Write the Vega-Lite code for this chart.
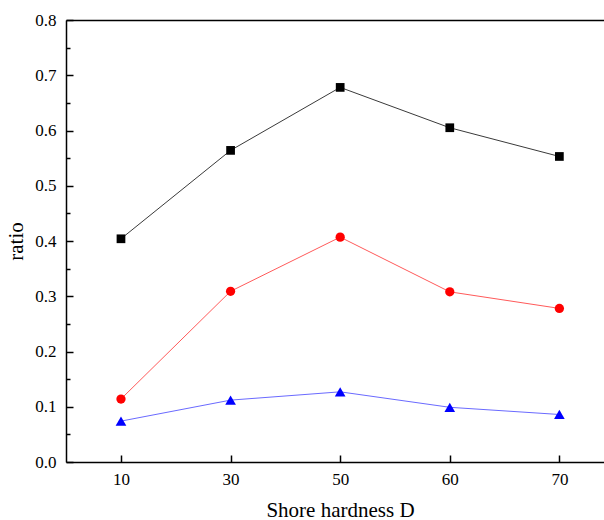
{
  "$schema": "https://vega.github.io/schema/vega-lite/v6.json",
  "width": 538,
  "height": 442,
  "autosize": "none",
  "padding": {"left": 66, "top": 20, "right": 0, "bottom": 58},
  "config": {
    "view": {"stroke": null},
    "font": "Liberation Serif",
    "axis": {"grid": false, "labelColor": "#000", "titleColor": "#000", "tickColor": "#000", "domainColor": "#000", "labelFont": "Liberation Serif", "titleFont": "Liberation Serif", "titleFontWeight": "normal"},
    "legend": {"labelFont": "Liberation Serif"}
  },
  "data": {
    "values": [
      {"hardness": 10, "series": "Average lift-to-drag ratio", "value": 0.404},
      {"hardness": 30, "series": "Average lift-to-drag ratio", "value": 0.564},
      {"hardness": 50, "series": "Average lift-to-drag ratio", "value": 0.678},
      {"hardness": 60, "series": "Average lift-to-drag ratio", "value": 0.605},
      {"hardness": 70, "series": "Average lift-to-drag ratio", "value": 0.553},
      {"hardness": 10, "series": "Pumping efficiency", "value": 0.074},
      {"hardness": 30, "series": "Pumping efficiency", "value": 0.112},
      {"hardness": 50, "series": "Pumping efficiency", "value": 0.127},
      {"hardness": 60, "series": "Pumping efficiency", "value": 0.099},
      {"hardness": 70, "series": "Pumping efficiency", "value": 0.086},
      {"hardness": 10, "series": "Advancing efficiency", "value": 0.114},
      {"hardness": 30, "series": "Advancing efficiency", "value": 0.309},
      {"hardness": 50, "series": "Advancing efficiency", "value": 0.407},
      {"hardness": 60, "series": "Advancing efficiency", "value": 0.308},
      {"hardness": 70, "series": "Advancing efficiency", "value": 0.278}
    ]
  },
  "layer": [
    {
      "mark": {"type": "line", "strokeWidth": 1},
      "encoding": {
        "x": {"field": "hardness", "type": "ordinal", "scale": {"type": "point", "padding": 0.4544, "align": 0.552},
          "axis": {"orient": "bottom", "title": "Shore hardness D", "titleFont": "Liberation Serif", "titleFontSize": 21, "titlePadding": 12, "titleX": 274, "labelFont": "Liberation Serif", "labelFontSize": 17, "labelAngle": 0, "labelPadding": 16, "tickSize": -7, "tickWidth": 1.5, "domainWidth": 1.5}},
        "y": {"field": "value", "type": "quantitative", "scale": {"domain": [0, 0.8], "nice": false},
          "axis": {"orient": "left", "title": "ratio", "titleFont": "Liberation Serif", "titleFontSize": 21, "titlePadding": 8, "values": [0, 0.1, 0.2, 0.3, 0.4, 0.5, 0.6, 0.7, 0.8], "format": ".1f", "labelFont": "Liberation Serif", "labelFontSize": 17, "labelPadding": 17, "tickSize": -7, "tickWidth": 1.5, "domainWidth": 1.5}},
        "color": {"field": "series", "type": "nominal", "scale": {"domain": ["Average lift-to-drag ratio", "Pumping efficiency", "Advancing efficiency"], "range": ["#3a3a3a", "#6a6aff", "#ff5a5a"]}, "legend": null}
      }
    },
    {
      "transform": [{"filter": "datum.series === 'Average lift-to-drag ratio'"}],
      "mark": {"type": "point", "filled": true, "shape": "square", "size": 76, "color": "#000000", "opacity": 1},
      "encoding": {
        "x": {"field": "hardness", "type": "ordinal",
          "axis": {"orient": "top", "title": null, "labels": false, "ticks": false, "domainWidth": 1.5}},
        "y": {"field": "value", "type": "quantitative",
          "axis": {"orient": "left", "title": null, "labels": false, "domain": false, "values": [0.05, 0.15, 0.25, 0.35, 0.45, 0.55, 0.65, 0.75], "tickSize": -4, "tickWidth": 1.5}}
      }
    },
    {
      "transform": [{"filter": "datum.series === 'Pumping efficiency'"}],
      "mark": {"type": "point", "filled": true, "shape": "triangle-up", "size": 114, "color": "#0000ff", "opacity": 1},
      "encoding": {
        "x": {"field": "hardness", "type": "ordinal", "axis": null},
        "y": {"field": "value", "type": "quantitative", "axis": null}
      }
    },
    {
      "transform": [{"filter": "datum.series === 'Advancing efficiency'"}],
      "mark": {"type": "point", "filled": true, "shape": "circle", "size": 86, "color": "#ff0000", "opacity": 1},
      "encoding": {
        "x": {"field": "hardness", "type": "ordinal", "axis": null},
        "y": {"field": "value", "type": "quantitative", "axis": null}
      }
    },
    {
      "transform": [{"filter": "datum.value < 0"}],
      "mark": {"type": "point", "filled": true, "color": "#000"},
      "encoding": {
        "x": {"field": "hardness", "type": "ordinal", "axis": null},
        "y": {"field": "value", "type": "quantitative", "axis": null},
        "shape": {"field": "series", "type": "nominal", "scale": {"domain": ["Average lift-to-drag ratio", "Pumping efficiency", "Advancing efficiency"], "range": ["M-2,-0.05H2V0.05H-2ZM-0.43,-0.43H0.43V0.43H-0.43Z", "M-2,-0.05H2V0.05H-2ZM0,-0.465L0.535,0.465H-0.535Z", "M-2,-0.05H2V0.05H-2ZM-0.46,0A0.46,0.46,0,1,0,0.46,0A0.46,0.46,0,1,0,-0.46,0Z"]},
          "legend": {"title": null, "orient": "none", "legendX": 306, "legendY": 157, "symbolSize": 400, "symbolStrokeWidth": 0, "symbolOffset": 8, "labelFontSize": 18, "labelColor": "#000", "labelOffset": 16, "labelLimit": 300, "padding": 3, "rowPadding": 3, "strokeColor": "#333", "fillColor": "#fff",
            "encoding": {"symbols": {"fill": {"value": {"signal": "datum.value === 'Pumping efficiency' ? '#0000ff' : datum.value === 'Advancing efficiency' ? '#ff0000' : '#000000'"}}}}}}
      }
    }
  ],
  "resolve": {"axis": {"x": "independent", "y": "independent"}}
}
